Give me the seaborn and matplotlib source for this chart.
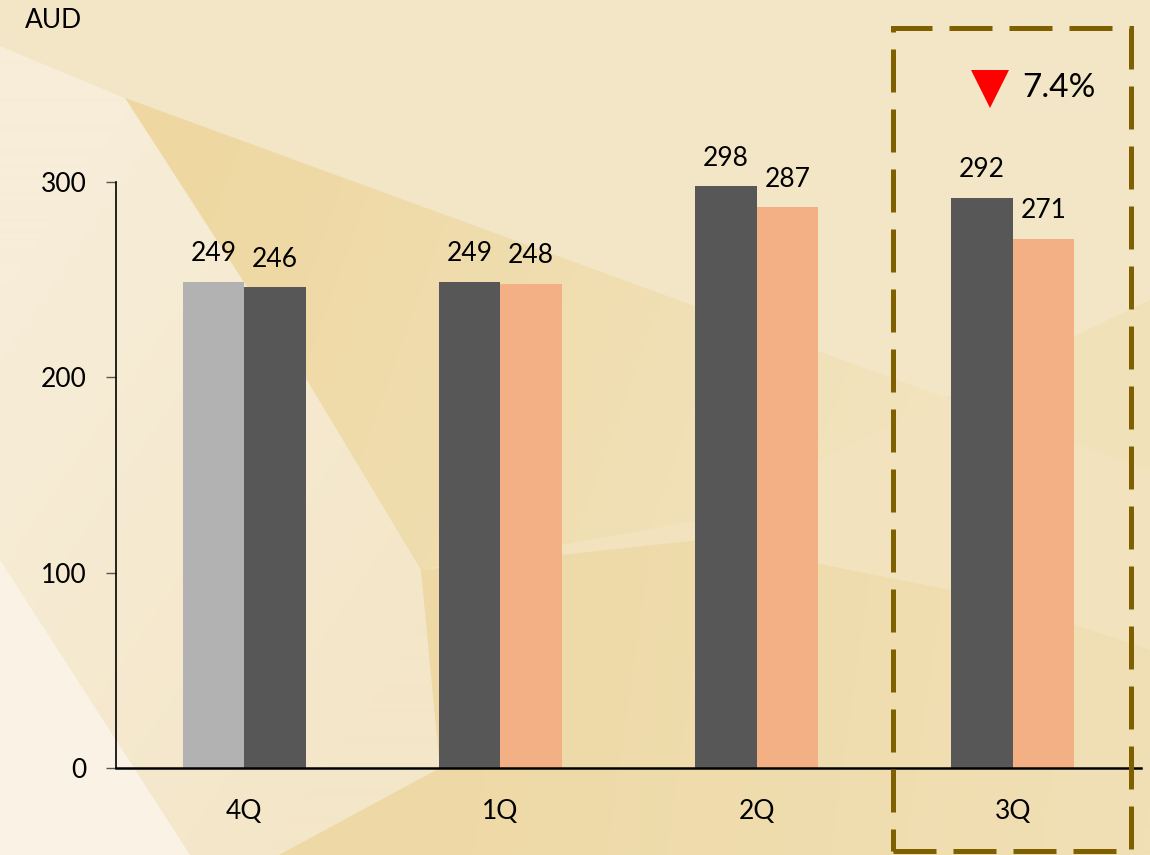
import matplotlib
matplotlib.use("Agg")
import matplotlib.pyplot as plt
from matplotlib.patches import Polygon, Rectangle
from matplotlib.lines import Line2D
import matplotlib.colors as mcolors
import numpy as np
import seaborn as sns
import pandas as pd

# ---- data ----
categories = ["4Q", "1Q", "2Q", "3Q"]
series_names = ["Previous", "Current"]
previous_values = [249, 249, 298, 292]
current_values = [246, 248, 287, 271]
y_ticks = [0, 100, 200, 300]
unit_label = "AUD"
change_label = "7.4%"

# ---- style ----
sns.set_style("ticks")
plt.rcParams["font.family"] = ["Lato", "DejaVu Sans"]
plt.rcParams["text.color"] = "black"
plt.rcParams["xtick.color"] = "black"
plt.rcParams["ytick.color"] = "black"
FS = 19

prev_colors = ["#B2B2B2", "#575757", "#575757", "#575757"]
curr_colors = ["#575757", "#F2B084", "#F2B084", "#F2B084"]

W, H = 1150, 855
fig = plt.figure(figsize=(W / 100, H / 100), dpi=100)

# background decoration
bg = fig.add_axes([0, 0, 1, 1])
bg.set_xlim(0, W)
bg.set_ylim(H, 0)
bg.axis("off")
bg.add_patch(Rectangle((0, 0), W, H, color="#F2E3BE", zorder=0))


def grad_poly(pts, c1, c2, p1, p2, z):
    poly = Polygon(pts, closed=True, facecolor="none", lw=0, zorder=z)
    bg.add_patch(poly)
    xs = np.arange(W)
    ys = np.arange(H)
    X, Y = np.meshgrid(xs, ys)
    d = np.array(p2, float) - np.array(p1, float)
    t = ((X - p1[0]) * d[0] + (Y - p1[1]) * d[1]) / (d @ d)
    t = np.clip(t, 0, 1)[..., None]
    a = np.array(mcolors.to_rgb(c1))
    b = np.array(mcolors.to_rgb(c2))
    img = a * (1 - t) + b * t
    im = bg.imshow(img, extent=(0, W, H, 0), zorder=z, interpolation="bilinear")
    im.set_clip_path(poly)


bg.add_patch(Polygon([(0, 0), (W, 0), (W, 300), (946, 398), (125, 98), (0, 46)],
                     color="#F3E6C6", lw=0, zorder=1))
grad_poly([(125, 98), (946, 398), (700, 520), (421, 570), (305, 377)],
          "#EED7A0", "#F2E3BD", (150, 150), (900, 420), 2)
grad_poly([(0, 46), (125, 98), (305, 377), (421, 570), (440, 768), (279, 855), (0, 855)],
          "#F7EDD8", "#F4E6C8", (0, 300), (440, 600), 2)
bg.add_patch(Polygon([(0, 560), (190, 855), (0, 855)], color="#FAF3E5", lw=0, zorder=3))
grad_poly([(421, 570), (700, 540), (1000, 600), (W, 650), (W, H), (279, 855), (440, 768)],
          "#EED9A6", "#F1E0B6", (450, 700), (1150, 800), 2)
bg.add_patch(Polygon([(946, 398), (W, 300), (W, 470)], color="#F1E1B9", lw=0, zorder=2))

# main axes
left, right, bottom_px, top_px = 116, 1141, 768, 182
ax = fig.add_axes([left / W, 1 - bottom_px / H, (right - left) / W, (bottom_px - top_px) / H])
ax.patch.set_alpha(0)

df = pd.DataFrame({
    "quarter": categories * 2,
    "series": [series_names[0]] * len(categories) + [series_names[1]] * len(categories),
    "value": previous_values + current_values,
})
sns.barplot(data=df, x="quarter", y="value", hue="series", order=categories,
            hue_order=series_names, width=0.48, ax=ax, legend=False,
            palette=["#575757", "#F2B084"], saturation=1, errorbar=None)

for cont, cols, vals in zip(ax.containers, [prev_colors, curr_colors], [previous_values, current_values]):
    for bar, c, v in zip(cont, cols, vals):
        bar.set_facecolor(c)
        bar.set_edgecolor("none")
        ax.annotate(f"{v}", (bar.get_x() + bar.get_width() / 2, bar.get_height()),
                    xytext=(0, 20), textcoords="offset points", ha="center", va="center",
                    fontsize=FS, color="black", annotation_clip=False)

ax.set_xlim(-0.5, len(categories) - 0.5)
ax.set_ylim(0, 300)
ax.set_yticks(y_ticks)
ax.set_xlabel("")
ax.set_ylabel("")
for s in ["top", "right"]:
    ax.spines[s].set_visible(False)
ax.spines["left"].set_linewidth(1.2)
ax.spines["bottom"].set_linewidth(1.8)
ax.spines["left"].set_color("black")
ax.spines["bottom"].set_color("black")
ax.tick_params(axis="y", length=7, width=1, color="#555555", pad=14, labelsize=FS,
               labelcolor="black")
ax.tick_params(axis="x", length=0, pad=22, labelsize=FS, labelcolor="black")

fig.text(53 / W, 1 - 21 / H, unit_label, ha="center", va="center", fontsize=19)

# highlight box
fig.add_artist(Rectangle((893 / W, 1 - 851 / H), (1131 - 893) / W, (851 - 28) / H,
                         transform=fig.transFigure, fill=False, edgecolor="#7F6000",
                         lw=3.6, linestyle=(0, (8.6, 3.4)), zorder=10))
fig.add_artist(Line2D([990 / W], [1 - 89 / H], marker="v", markersize=27, color="#FF0000",
                      markeredgewidth=0, transform=fig.transFigure))
fig.text(1022 / W, 1 - 88 / H, change_label, ha="left", va="center", fontsize=24)

fig.savefig("out.png", dpi=100)
